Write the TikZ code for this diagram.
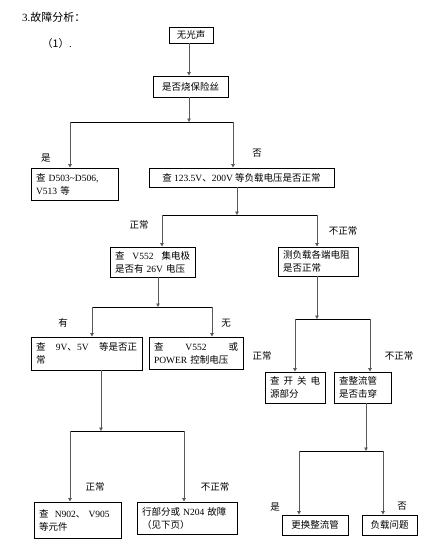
\documentclass[tikz,border=0pt]{standalone}
\usepackage{fontspec}
\setmainfont{Liberation Serif}
\newfontfamily\cjk{Noto Sans CJK SC}
\usetikzlibrary{arrows.meta,positioning,calc}
\newcommand{\lat}[1]{{\rmfamily #1}}

\begin{document}
\begin{tikzpicture}[x=1pt,y=-1pt, every node/.style={font=\cjk\fontsize{9.5}{13}\selectfont,inner sep=0pt}, box/.style={draw,line width=0.9pt,inner xsep=5pt,inner ysep=2pt,align=left}, vl/.style={draw=gray!70!black,line width=0.9pt,-{Triangle[length=3.5pt,width=3.5pt]}}, hl/.style={draw=black,line width=0.9pt}]
\useasboundingbox (0,0) rectangle (433,555);
\node[anchor=west,font=\cjk\fontsize{11}{13}\selectfont] (title) at (22,17) {\lat{3.}故障分析：};
\node[anchor=west,font=\cjk\fontsize{10.5}{13}\selectfont] (sub) at (42,44) {（1）\lat{.}};
% boxes
\node[box,minimum width=44pt,minimum height=16pt] (start) at (191,35) {无光声};
\node[box,minimum width=75pt,minimum height=21pt] (fuse) at (190.5,86.5) {是否烧保险丝};
\node[box,text width=77pt,minimum height=32pt] (dcheck) at (74.5,184) {查 \lat{D503\textasciitilde D506,}\\\lat{V513} 等};
\node[box,minimum width=185pt,minimum height=19pt] (load) at (241.5,177.5) {查 \lat{123.5V}、\lat{200V} 等负载电压是否正常};
\node[box,text width=75pt,minimum height=30pt] (vcheck) at (152.5,262) {查\hfill\lat{V552}\hfill 集电极\\是否有 \lat{26V} 电压};
\node[box,text width=70pt,minimum height=29pt] (ohm) at (318,261.5) {测负载各端电阻\\是否正常};
\node[box,text width=101pt,minimum height=33pt] (lowv) at (86.5,353.5) {查\hfill\lat{9V}、\lat{5V}\hfill 等是否正\\常};
\node[box,text width=84pt,minimum height=32pt] (power) at (196,353) {查\hfill\lat{V552}\hfill 或\\\lat{POWER} 控制电压};
\node[box,text width=50pt,minimum height=31pt] (psu) at (295,387.5) {查\hfill 开\hfill 关\hfill 电\\源部分};
\node[box,text width=47pt,minimum height=31pt] (rect) at (362.5,387.5) {查整流管\\是否击穿};
\node[box,minimum width=66pt,minimum height=20pt] (swap) at (315,525) {更换整流管};
\node[box,minimum width=55pt,minimum height=20pt] (loadp) at (389.5,525) {负载问题};
\node[box,text width=77pt,minimum height=36pt] (ncheck) at (77.5,520) {查~~\lat{N902}、~\lat{V905}\\等元件};
\node[box,text width=90pt,minimum height=32pt] (hout) at (187,518) {行部分或 \lat{N204} 故障\\（见下页）};
% connectors
\draw[vl] (start.south -| 189,0) -- (189,0 |- fuse.north);
\foreach \p/\x/\y/\l/\r/\a/\b [count=\i] in {fuse/189/122/70/233/dcheck/load, load/237/215/162/317/vcheck/ohm, vcheck/158/307/92/212/lowv/power, ohm/317/319/295/370/psu/rect, rect/366/451/299/383/swap/loadp, lowv/101/431/70/184/ncheck/hout}{
  \coordinate (j\i) at (\x,\y); \coordinate (l\i) at (\l,\y); \coordinate (r\i) at (\r,\y);
  \draw[vl] (\p.south -| j\i) -- (j\i);
  \draw[hl] (l\i) -- (r\i);
  \draw[vl] (l\i) -- (l\i |- \a.north);
  \draw[vl] (r\i) -- (r\i |- \b.north);
}
% labels
\foreach \t/\x/\y [count=\i] in {是/46/158, 否/257/153, 正常/139/225, 不正常/343/231, 有/63/323, 无/226/323, 正常/262/356, 不正常/399/356, 正常/95/487, 不正常/215/487, 是/275/507, 否/402/506}
  \node (lab\i) at (\x,\y) {\t};
\end{tikzpicture}
\end{document}
